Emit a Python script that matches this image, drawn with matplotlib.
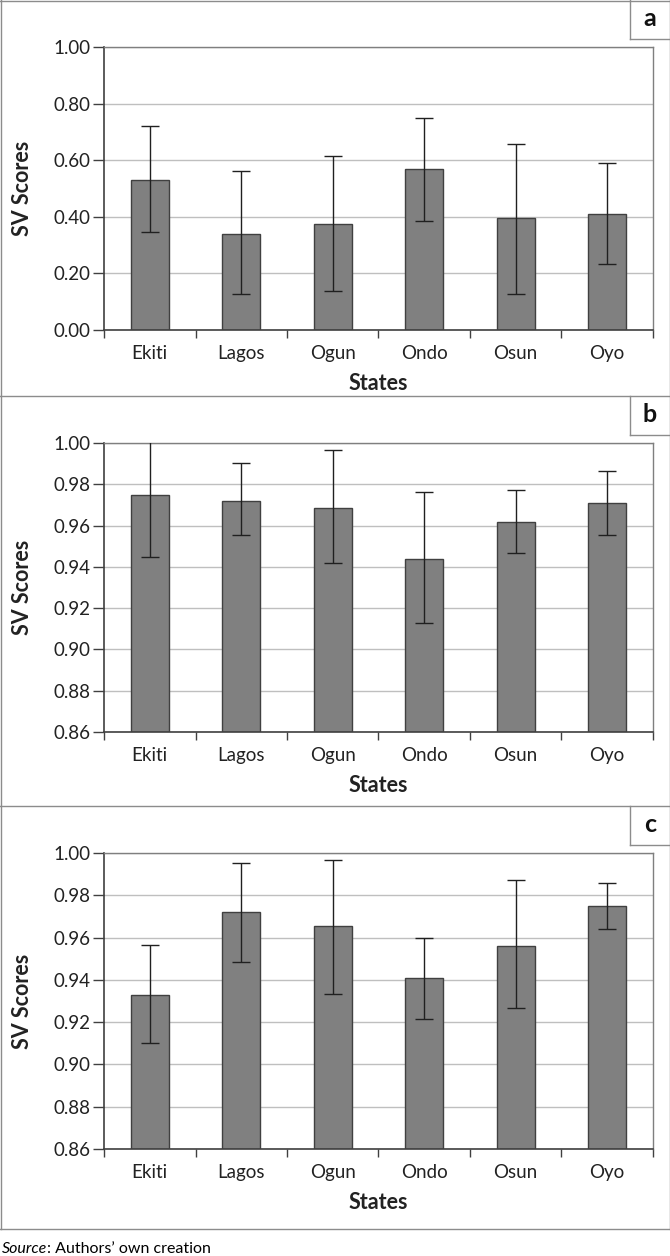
import numpy as np
import matplotlib
matplotlib.use('Agg')
import matplotlib.pyplot as plt
from matplotlib.lines import Line2D

plt.rcParams['font.family'] = ['Lato', 'DejaVu Sans']

# data
states = ['Ekiti', 'Lagos', 'Ogun', 'Ondo', 'Osun', 'Oyo']

a_mean = [0.531, 0.340, 0.376, 0.568, 0.397, 0.411]
a_low = [0.347, 0.128, 0.137, 0.385, 0.128, 0.234]
a_high = [0.721, 0.561, 0.614, 0.750, 0.657, 0.589]

b_mean = [0.975, 0.972, 0.9686, 0.9438, 0.9618, 0.9707]
b_low = [0.9446, 0.9554, 0.9418, 0.9127, 0.9468, 0.9555]
b_high = [1.0054, 0.9905, 0.9966, 0.9763, 0.9770, 0.9866]

c_mean = [0.9329, 0.9721, 0.9653, 0.9407, 0.9561, 0.9747]
c_low = [0.9100, 0.9484, 0.9331, 0.9214, 0.9266, 0.9640]
c_high = [0.9563, 0.9954, 0.9967, 0.9597, 0.9872, 0.9859]

a_ticks = [0.0, 0.2, 0.4, 0.6, 0.8, 1.0]
bc_ticks = [0.86, 0.88, 0.90, 0.92, 0.94, 0.96, 0.98, 1.00]

W, H = 670, 1256
fig = plt.figure(figsize=(W / 100, H / 100), dpi=100)

def px_axes(left, top, right, bottom):
    return fig.add_axes([left / W, 1 - bottom / H, (right - left) / W, (bottom - top) / H])

def panel(ax, mean, low, high, ticks, letter, ptop):
    x = np.arange(len(states))
    mean = np.array(mean)
    err = [mean - np.array(low), np.array(high) - mean]
    ax.bar(x, mean - ticks[0], bottom=ticks[0], width=0.42, color='#808080',
           edgecolor='#404040', linewidth=1.0, zorder=2)
    ax.errorbar(x, mean, yerr=err, fmt='none', ecolor='#202020', elinewidth=1.0,
                capsize=6.5, capthick=1.0, zorder=3)
    ax.set_xlim(-0.5, len(states) - 0.5)
    ax.set_ylim(ticks[0], ticks[-1])
    ax.set_yticks(ticks)
    ax.set_yticklabels(['%.2f' % t for t in ticks], fontsize=13.5, color='#222222')
    ax.yaxis.grid(True, color='#bfbfbf', linewidth=1.0, zorder=0)
    ax.set_axisbelow(True)
    ax.set_xticks(np.arange(-0.5, len(states), 1.0))
    ax.set_xticklabels([])
    ax.set_xticks(x, minor=True)
    ax.set_xticklabels(states, minor=True, fontsize=13.5, color='#222222')
    ax.tick_params(axis='x', which='major', length=6, width=1, color='#404040', direction='out')
    ax.tick_params(axis='x', which='minor', length=0, pad=11)
    ax.tick_params(axis='y', length=8, width=1, color='#404040', direction='out', pad=2)
    for s in ['left', 'bottom']:
        ax.spines[s].set_color('#404040')
        ax.spines[s].set_linewidth(1.2)
    for s in ['top', 'right']:
        ax.spines[s].set_color('#7f7f7f')
        ax.spines[s].set_linewidth(1.0)
    ax.set_ylabel('SV Scores', fontsize=15.5, fontweight='bold', color='#222222')
    ax.yaxis.set_label_coords(-71 / (653 - 104), 0.5)
    ax.set_xlabel('States', fontsize=15.5, fontweight='bold', color='#222222', labelpad=8)
    # letter box at top right of panel
    fig.add_artist(Line2D([630 / W, 630 / W], [1 - ptop / H, 1 - (ptop + 39) / H],
                          color='#8c8c8c', lw=1.0))
    fig.add_artist(Line2D([630 / W, 1.0], [1 - (ptop + 39) / H, 1 - (ptop + 39) / H],
                          color='#8c8c8c', lw=1.0))
    fig.text(650 / W, 1 - (ptop + 19) / H, letter, fontsize=18, fontweight='bold',
             ha='center', va='center', color='#111111')

ax1 = px_axes(104, 47, 653, 330)
panel(ax1, a_mean, a_low, a_high, a_ticks, 'a', 0)
ax2 = px_axes(104, 443, 653, 732)
panel(ax2, b_mean, b_low, b_high, bc_ticks, 'b', 396)
ax3 = px_axes(104, 853, 653, 1149)
panel(ax3, c_mean, c_low, c_high, bc_ticks, 'c', 806)

# panel borders
for y in [0.5, 396, 806, 1229]:
    fig.add_artist(Line2D([0, 1], [1 - y / H, 1 - y / H], color='#8c8c8c', lw=1.0))
for xpx in [0.5, 669.5]:
    fig.add_artist(Line2D([xpx / W, xpx / W], [1 - 1229 / H, 1], color='#8c8c8c', lw=1.0))

# source note
t = fig.text(2 / W, 1 - 1249 / H, 'Source', fontsize=11.5, style='italic', va='center', ha='left')
fig.canvas.draw()
bb = t.get_window_extent()
fig.text(bb.x1 / W, 1 - 1249 / H, ': Authors\u2019 own creation', fontsize=11.5,
         va='center', ha='left')

fig.savefig('out.png', dpi=100)
